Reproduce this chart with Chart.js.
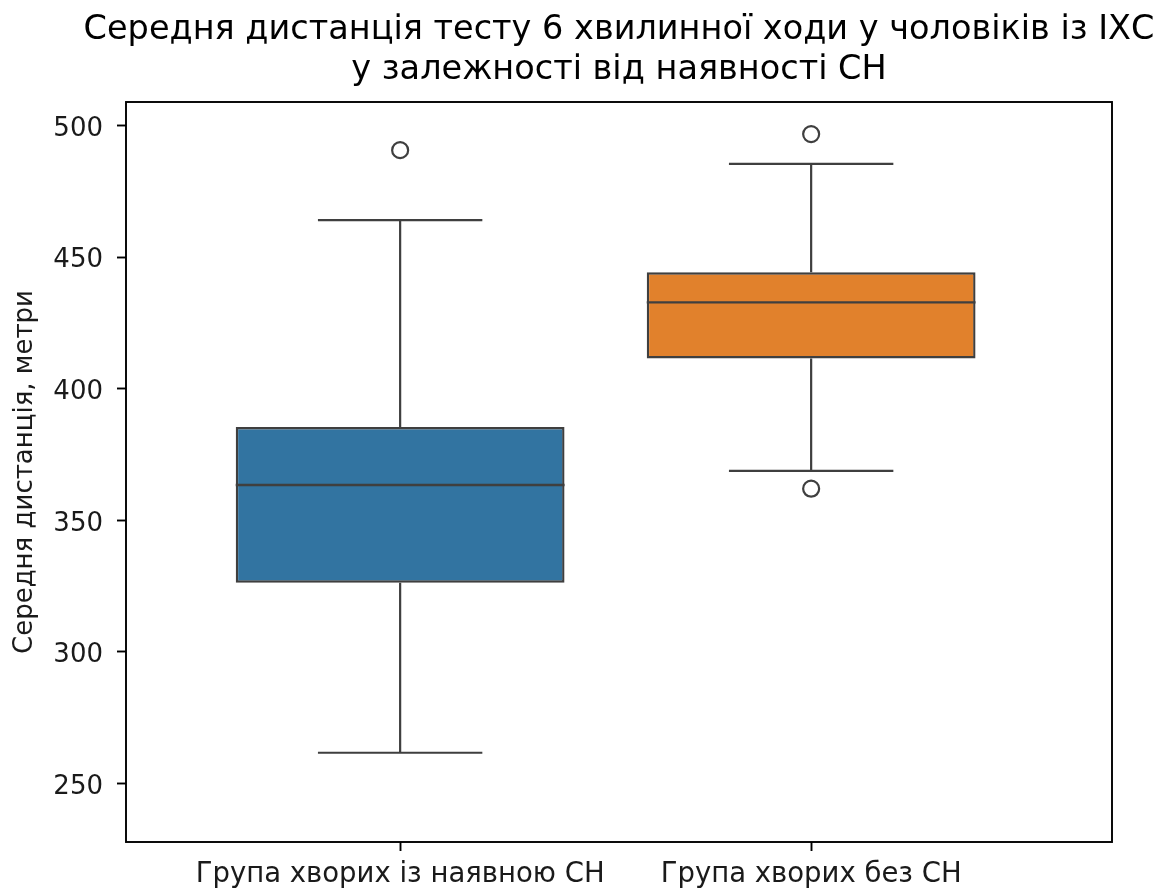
<!DOCTYPE html>
<html lang="uk">
<head>
<meta charset="utf-8">
<title>Середня дистанція тесту 6 хвилинної ходи</title>
<script src="https://cdn.jsdelivr.net/npm/chart.js@4.4.1/dist/chart.umd.min.js"></script>
<style>
  html, body { margin: 0; padding: 0; background: #ffffff; }
  #wrap { width: 1156px; height: 893px; }
</style>
</head>
<body>
<div id="wrap"><canvas id="chart" width="1156" height="893"></canvas></div>
<script>
// Groups and box-plot statistics (metres)
const categories = ['Група хворих із наявною СН', 'Група хворих без СН'];
const whiskerLow  = [261.7, 368.8];
const q1          = [326.3, 411.5];
const median      = [363.4, 432.8];
const q3          = [385.4, 444.2];
const whiskerHigh = [464.0, 485.4];

// Outliers: group index and value
const outlierGroup = [0, 1, 1];
const outlierValue = [490.6, 496.7, 362.0];

const yTicks = [250, 300, 350, 400, 450, 500];

const titleLines = [
  'Середня дистанція тесту 6 хвилинної ходи у чоловіків із ІХС',
  'у залежності від наявності СН'
];
const yAxisTitle = 'Середня дистанція, метри';

const boxColors = ['#3274a1', '#e1812c'];
const lineColor = '#3f3f3f';
const textColor = '#1a1a1a';
const FONT = "'DejaVu Sans', sans-serif";
const BOX_HALF = 0.4;
const CAP_HALF = 0.2;

Chart.defaults.font.family = FONT;

// Whiskers, caps, medians, the axes frame and the title centred over the plot
const boxPlotLines = {
  id: 'boxPlotLines',
  beforeDatasetsDraw(chart) {
    const { ctx, scales: { x, y } } = chart;
    ctx.save();
    ctx.strokeStyle = lineColor;
    ctx.lineWidth = 2.2;
    ctx.lineCap = 'butt';
    categories.forEach((_, i) => {
      const cx = x.getPixelForValue(i);
      const l = x.getPixelForValue(i - CAP_HALF);
      const r = x.getPixelForValue(i + CAP_HALF);
      const yLo = y.getPixelForValue(whiskerLow[i]);
      const yHi = y.getPixelForValue(whiskerHigh[i]);
      ctx.beginPath();
      ctx.moveTo(cx, y.getPixelForValue(q1[i])); ctx.lineTo(cx, yLo);
      ctx.moveTo(cx, y.getPixelForValue(q3[i])); ctx.lineTo(cx, yHi);
      ctx.moveTo(l, yLo); ctx.lineTo(r, yLo);
      ctx.moveTo(l, yHi); ctx.lineTo(r, yHi);
      ctx.stroke();
    });
    ctx.restore();
  },
  afterDatasetsDraw(chart) {
    const { ctx, scales: { x, y } } = chart;
    ctx.save();
    ctx.strokeStyle = lineColor;
    ctx.lineWidth = 2.4;
    categories.forEach((_, i) => {
      const ym = y.getPixelForValue(median[i]);
      ctx.beginPath();
      ctx.moveTo(x.getPixelForValue(i - BOX_HALF), ym);
      ctx.lineTo(x.getPixelForValue(i + BOX_HALF), ym);
      ctx.stroke();
    });
    ctx.restore();
  },
  afterDraw(chart) {
    const { ctx, chartArea: a } = chart;
    ctx.save();
    ctx.strokeStyle = '#000';
    ctx.lineWidth = 1.9;
    ctx.strokeRect(a.left, a.top, a.right - a.left, a.bottom - a.top);

    // title: two lines, centred on the plot area
    ctx.fillStyle = '#000';
    ctx.font = '33.5px ' + FONT;
    ctx.textAlign = 'center';
    ctx.textBaseline = 'middle';
    const cx = (a.left + a.right) / 2;
    titleLines.forEach((line, k) => {
      ctx.fillText(line, cx, 30.6 + k * 40);
    });
    ctx.restore();
  }
};

const tickGrid = {
  drawOnChartArea: false,
  drawTicks: true,
  tickLength: 9,
  tickColor: '#000',
  tickWidth: 1.9,
  offset: false
};

new Chart(document.getElementById('chart'), {
  type: 'bar',
  data: {
    datasets: [
      {
        type: 'bar',
        data: categories.map((_, i) => ({ x: i, y: [q1[i], q3[i]] })),
        backgroundColor: boxColors,
        borderColor: lineColor,
        borderWidth: 2.4,
        borderSkipped: false,
        barPercentage: 1,
        categoryPercentage: 2 * BOX_HALF
      },
      {
        type: 'scatter',
        data: outlierValue.map((v, k) => ({ x: outlierGroup[k], y: v })),
        showLine: false,
        pointRadius: 8,
        pointBorderWidth: 2.2,
        pointBackgroundColor: 'rgba(0,0,0,0)',
        pointBorderColor: lineColor
      }
    ]
  },
  options: {
    responsive: false,
    animation: false,
    events: [],
    layout: { padding: { top: 102, right: 44, bottom: 0, left: 0 } },
    plugins: {
      legend: { display: false },
      tooltip: { enabled: false },
      title: { display: false }
    },
    scales: {
      x: {
        type: 'linear',
        min: -0.667,
        max: 1.732,
        offset: false,
        afterBuildTicks: s => { s.ticks = categories.map((_, i) => ({ value: i })); },
        afterFit: s => { s.height = 51; },
        ticks: {
          callback: v => categories[v],
          color: textColor,
          font: { size: 27.5 },
          padding: 7,
          maxRotation: 0,
          autoSkip: false
        },
        grid: tickGrid,
        border: { display: false }
      },
      y: {
        type: 'linear',
        min: 227.8,
        max: 508.9,
        afterBuildTicks: s => { s.ticks = yTicks.map(v => ({ value: v })); },
        afterFit: s => { s.width = 126; },
        ticks: {
          color: textColor,
          font: { size: 26 },
          padding: 14,
          labelOffset: 3.5
        },
        title: {
          display: true,
          text: yAxisTitle,
          color: textColor,
          font: { size: 26 },
          padding: { top: 10, bottom: 0 }
        },
        grid: tickGrid,
        border: { display: false }
      }
    }
  },
  plugins: [boxPlotLines]
});
</script>
</body>
</html>
